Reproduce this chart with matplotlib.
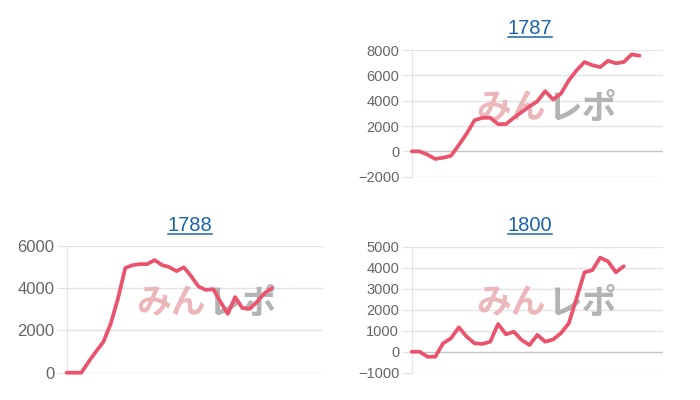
import matplotlib
matplotlib.use('Agg')
import matplotlib.pyplot as plt
from matplotlib.lines import Line2D

plt.rcParams['font.family'] = ['Liberation Sans', 'DejaVu Sans']

W, H = 700, 400

# chart data
TITLES = ['1787', '1788', '1800']
VALUES_1787 = [0, 0, -260, -600, -500, -350, 500, 1400, 2450, 2650,
               2650, 2150, 2150, 2650, 3100, 3550, 3950, 4750, 4100, 4550,
               5600, 6400, 7050, 6800, 6650, 7150, 6950, 7050, 7650, 7550]
VALUES_1788 = [0, 0, 0, 520, 1000, 1450, 2300, 3500, 4950, 5080,
               5130, 5130, 5320, 5090, 4990, 4800, 4980, 4560, 4070, 3910,
               3950, 3350, 2780, 3570, 3050, 3020, 3350, 3750, 4000]
VALUES_1800 = [0, 0, -240, -240, 400, 640, 1160, 715, 400, 370,
               475, 1320, 830, 950, 560, 320, 800, 475, 580, 880,
               1350, 2550, 3780, 3880, 4480, 4300, 3780, 4070]
LABEL_COUNTS = [33, 36, 33]
YTICKS_1787 = [-2000, 0, 2000, 4000, 6000, 8000]
YTICKS_1788 = [0, 2000, 4000, 6000]
YTICKS_1800 = [-1000, 0, 1000, 2000, 3000, 4000, 5000]
WATERMARK = ['みん', 'レポ']

SERIES = [VALUES_1787, VALUES_1788, VALUES_1800]
YTICKS = [YTICKS_1787, YTICKS_1788, YTICKS_1800]

# layout in pixels: axes box (left, top, right, bottom), title baseline, watermark centre
LAYOUT = [
    dict(box=(411.7, 50, 663, 176.7), title=(530, 34), mark=(546.5, 108), size=10.5),
    dict(box=(66.7, 245.7, 323, 372.7), title=(190, 230.5), mark=(206.5, 303), size=12),
    dict(box=(411.7, 246.7, 663, 372.7), title=(530, 230.5), mark=(546.5, 303), size=10.5),
]

LINE_COLOR = '#e9536d'
GRID_COLOR = '#e3e3e3'
ZERO_COLOR = '#c4c4c4'
TITLE_COLOR = '#1c63ad'


def fx(x):
    return x / W


def fy(y):
    return 1 - y / H


fig = plt.figure(figsize=(W / 100, H / 100), dpi=100)

titles = []
for name, values, ticks, n_labels, lay in zip(TITLES, SERIES, YTICKS, LABEL_COUNTS, LAYOUT):
    left, top, right, bottom = lay['box']
    ax = fig.add_axes([fx(left), fy(bottom), fx(right) - fx(left), fy(top) - fy(bottom)])
    ax.plot(range(len(values)), values, color=LINE_COLOR, linewidth=2.7,
            solid_joinstyle='round', solid_capstyle='round', zorder=3, clip_on=False)
    ax.set_xlim(0, n_labels - 1)
    ax.set_ylim(ticks[0], ticks[-1])
    ax.set_yticks(ticks)
    ax.set_xticks([])
    for t in ticks:
        ax.axhline(t, color=ZERO_COLOR if t == 0 else GRID_COLOR, linewidth=1, zorder=0.5)
    for side in ['top', 'right', 'bottom']:
        ax.spines[side].set_visible(False)
    ax.spines['left'].set_color(GRID_COLOR)
    ax.tick_params(axis='y', length=7, color=GRID_COLOR, pad=2,
                   labelsize=lay['size'], labelcolor='#666666')
    ax.patch.set_alpha(0)

    mx, my = lay['mark']
    ax.text(fx(mx) - 0.001, fy(my), WATERMARK[0], transform=fig.transFigure,
            ha='right', va='center', fontsize=25, fontweight='bold',
            family=['Noto Sans CJK JP'], color='#ebb7ba', zorder=1)
    ax.text(fx(mx) + 0.001, fy(my), WATERMARK[1], transform=fig.transFigure,
            ha='left', va='center', fontsize=25, fontweight='bold',
            family=['Noto Sans CJK JP'], color='#b3b3b3', zorder=1)

    tx, ty = lay['title']
    titles.append(fig.text(fx(tx), fy(ty), name, ha='center', va='baseline',
                           fontsize=14.5, color=TITLE_COLOR))

# underline the titles like links
fig.canvas.draw()
for t in titles:
    bb = t.get_window_extent()
    y = bb.y0 + 1
    fig.add_artist(Line2D([bb.x0 / W, bb.x1 / W], [y / H, y / H],
                          transform=fig.transFigure, color=TITLE_COLOR, linewidth=1.1))

fig.savefig('out.png', dpi=100)
